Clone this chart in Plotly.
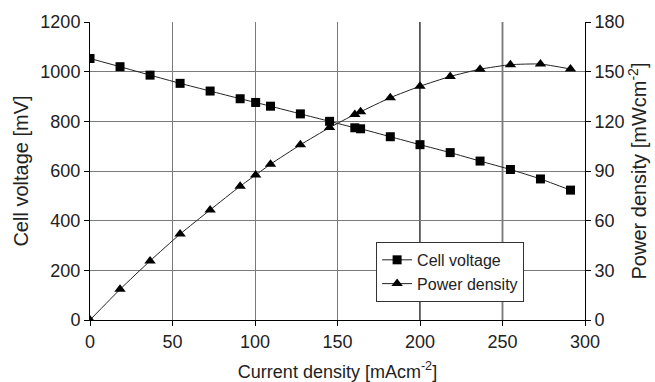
import plotly.graph_objects as go

current_density = [0, 18.2, 36.4, 54.6, 72.8, 91, 100.4, 109.4, 127.5, 145.2, 160.5, 164, 182, 200, 218.3, 236.4, 254.8, 273, 291.2]
cell_voltage = [1053, 1020, 986, 953, 922, 891, 876, 861, 830, 800, 774, 770, 738, 706, 674, 640, 606, 568, 523]
power_density = [0, 18.5, 35.7, 51.9, 66.5, 80.8, 87.6, 94.1, 105.8, 116.2, 124.2, 125.8, 134.3, 141.2, 147.1, 151.5, 154.2, 154.6, 151.6]

x_ticks = [0, 50, 100, 150, 200, 250, 300]
y_ticks = [0, 200, 400, 600, 800, 1000, 1200]
y2_ticks = [0, 30, 60, 90, 120, 150, 180]
dark_grid_x = [200, 250]

FONT = "Liberation Sans, Arial, sans-serif"

fig = go.Figure()
fig.add_trace(go.Scatter(
    x=current_density, y=cell_voltage, name="Cell voltage",
    mode="lines+markers", line=dict(color="#222", width=1, shape="spline", smoothing=0.5),
    marker=dict(symbol="square", size=9, color="black"),
))
fig.add_trace(go.Scatter(
    x=current_density, y=power_density, name="Power density", yaxis="y2",
    mode="lines+markers", line=dict(color="#222", width=1, shape="spline", smoothing=0.5),
    marker=dict(symbol="triangle-up", size=10, color="black"),
))

for gx in dark_grid_x:
    fig.add_shape(type="line", xref="x", yref="paper", x0=gx, x1=gx, y0=0, y1=1,
                  line=dict(color="#222", width=1.5), layer="below")

axis_common = dict(
    showline=True, linecolor="black", linewidth=1, ticks="outside", ticklen=5,
    tickcolor="black", showgrid=True, gridcolor="#7a7a7a", gridwidth=1,
    zeroline=False, automargin=False,
    tickfont=dict(family=FONT, size=18, color="#222"),
)

fig.update_layout(
    width=655, height=382,
    margin=dict(l=90, r=70, t=22, b=62),
    paper_bgcolor="white", plot_bgcolor="white",
    font=dict(family=FONT, color="#222"),
    showlegend=True,
    legend=dict(x=0.578, y=0.262, xanchor="left", yanchor="top",
                bordercolor="#333", borderwidth=1, bgcolor="white",
                font=dict(family=FONT, size=16, color="#222"),
                tracegroupgap=0, itemwidth=30),
    xaxis=dict(range=[0, 300], tickvals=x_ticks,
               title=dict(text="Current density [mAcm<sup>-2</sup>]", font=dict(family=FONT, size=18), standoff=15),
               **axis_common),
    yaxis=dict(range=[0, 1200], tickvals=y_ticks,
               title=dict(text="Cell voltage [mV]", font=dict(family=FONT, size=20), standoff=6),
               **axis_common),
    yaxis2=dict(range=[0, 180], tickvals=y2_ticks, overlaying="y", side="right",
                title=dict(text="Power density [mWcm<sup>-2</sup>]", font=dict(family=FONT, size=20), standoff=2),
                **{**axis_common, "showgrid": False}),
)

fig.write_html("out.html", config={"displayModeBar": False},
               post_script="document.body.style.margin='0';")
